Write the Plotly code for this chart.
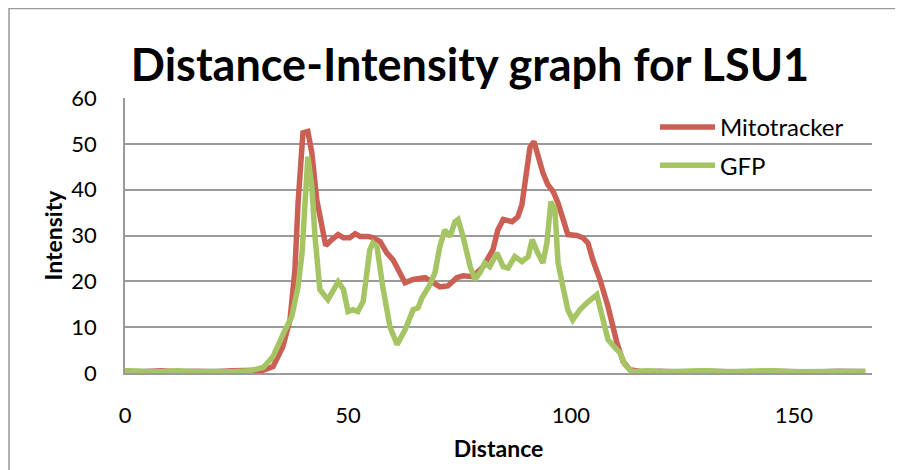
import plotly.graph_objects as go

# Mitotracker (red) series
mito_x = [0, 4, 8, 12, 16, 20, 24, 28, 31, 33.2, 35.4, 37, 38.1, 38.8, 39.9, 41, 41.9, 43, 44.2, 45,
          46.4, 47.8, 49, 50.4, 51.6, 52.7, 54.5, 55.7, 57.2, 58.7, 60.1, 61.7, 62.8, 64.6, 67.3, 68,
          69.5, 70.6, 72.4, 74.4, 75.8, 78, 80.3, 81.8, 82.5, 83.6, 84.8, 86.8, 88.1, 89, 90.1, 90.8,
          91.7, 92.6, 93.7, 94.8, 96, 97.1, 98.2, 99.3, 101.3, 102.7, 103.8, 104.9, 106.5, 108.3,
          110.3, 111.7, 113.2, 116, 120, 125, 130, 135, 140, 145, 150, 155, 160, 166]
mito_y = [0.4, 0.3, 0.5, 0.3, 0.4, 0.3, 0.5, 0.4, 0.6, 1.4, 5.8, 11.6, 22.5, 37, 52.4, 52.7, 48, 37.8,
          31.2, 27.8, 29.1, 30.2, 29.5, 29.5, 30.4, 29.8, 29.8, 29.5, 28.7, 26.2, 24.7, 21.9, 19.7,
          20.4, 20.8, 20.4, 19.3, 18.8, 19.0, 20.8, 21.2, 21.0, 23.2, 25.4, 26.9, 31.2, 33.5, 33.0,
          34.1, 36.7, 43.7, 49.2, 50.5, 47.2, 43.7, 41.1, 39.6, 37.1, 33.5, 30.2, 30.0, 29.5, 28.4,
          24.7, 20.4, 14.5, 6.6, 2.5, 0.7, 0.3, 0.4, 0.2, 0.4, 0.3, 0.2, 0.4, 0.3, 0.2, 0.4, 0.3]

# GFP (green) series
gfp_x = [0, 4, 8, 12, 16, 20, 24, 28, 31, 33.2, 34.8, 35.9, 37.4, 38.8, 39.7, 40.4, 41, 41.9, 42.6,
         43.7, 45.5, 47.8, 49, 50, 51.1, 52.2, 53.4, 54.9, 55.6, 56.5, 57.8, 59.4, 61, 62.8, 64.6,
         65.7, 66.6, 68.4, 69.5, 70.6, 71.7, 72.9, 74, 74.7, 75.8, 77.4, 78.5, 79.6, 80.7, 81.8,
         83.4, 84.8, 85.9, 87.4, 89, 90.4, 91.3, 92.4, 93.7, 94.6, 95.5, 96.4, 97.1, 98.2, 99.3,
         100.4, 102, 103.6, 105.8, 107.2, 108.3, 109.9, 111, 112.1, 113.7, 117, 121, 125, 130, 135,
         140, 145, 150, 155, 160, 166]
gfp_y = [0.5, 0.4, 0.3, 0.5, 0.3, 0.4, 0.3, 0.5, 1.2, 3.6, 7.3, 9.4, 12.3, 18.8, 26.2, 40.7, 47.2,
         40.7, 29.8, 18.2, 16.0, 19.9, 18.2, 13.4, 13.8, 13.4, 15.6, 26.9, 28.4, 27.6, 18.8, 10.1,
         6.2, 9.4, 13.8, 14.2, 16.4, 19.3, 21.9, 27.6, 31.2, 29.8, 33.0, 33.5, 29.8, 23.2, 20.4,
         21.9, 24.0, 23.2, 26.2, 23.2, 22.9, 25.4, 24.3, 25.4, 29.1, 26.5, 24.0, 28.4, 37.4, 35.6,
         24.0, 18.8, 13.8, 11.6, 13.8, 15.3, 17.1, 11.6, 7.3, 5.5, 4.4, 1.8, 0.3, 0.5, 0.3, 0.4,
         0.5, 0.3, 0.4, 0.5, 0.3, 0.4, 0.5, 0.4]

RED = "#CC5F54"
GREEN = "#A5C463"
FONT = "Lato, 'Open Sans', sans-serif"

fig = go.Figure()
fig.add_trace(go.Scatter(x=mito_x, y=mito_y, mode="lines", name="Mitotracker",
                         line=dict(color=RED, width=5.5), legendgroup="a"))
fig.add_trace(go.Scatter(x=gfp_x, y=gfp_y, mode="lines", name="GFP",
                         line=dict(color=GREEN, width=5.5), legendgroup="b"))

OFF = 8  # page body offset
W, H = 903, 470
L, T = 125 - OFF, 98 - OFF
R = W - (872 - OFF)
B = H - (373 - OFF)
pw, ph = W - L - R, H - T - B

def px(xs):
    return (xs - OFF - L) / pw

def py(ys):
    return (H - B - (ys - OFF)) / ph

fig.update_layout(
    width=W, height=H,
    margin=dict(l=L, r=R, t=T, b=B, autoexpand=False),
    paper_bgcolor="white", plot_bgcolor="white",
    font=dict(family=FONT, size=22, color="black"),
    title=dict(text="<b>Distance-Intensity graph for LSU1</b>",
               font=dict(family=FONT, size=45, color="black"),
               x=(470 - OFF) / W, xanchor="center", xref="container",
               y=1 - (65 - OFF) / H, yref="container", yanchor="middle"),
    showlegend=True,
    legend=dict(x=px(655), y=py(105), xanchor="left", yanchor="top",
                bgcolor="rgba(0,0,0,0)", font=dict(size=24, family=FONT),
                tracegroupgap=4, traceorder="grouped", itemwidth=55),
    xaxis=dict(range=[0, 167.5], tickvals=[0, 50, 100, 150], showgrid=False,
               zeroline=False, showline=True, linecolor="#9A9A9A", linewidth=1.5,
               ticks="", ticklabelstandoff=22, automargin=False,
               title=dict(text="<b>Distance</b>", font=dict(size=23, family=FONT), standoff=14)),
    yaxis=dict(range=[0, 60], tickvals=[0, 10, 20, 30, 40, 50, 60], showgrid=True,
               gridcolor="#9A9A9A", gridwidth=1.5, zeroline=False, showline=True,
               linecolor="#9A9A9A", linewidth=1.5, ticks="", ticklabelstandoff=22,
               automargin=False,
               title=dict(text="<b>Intensity</b>", font=dict(size=23, family=FONT), standoff=2)),
    shapes=[dict(type="rect", xref="paper", yref="paper",
                 x0=px(9), x1=px(896), y0=py(490), y1=py(8.5),
                 line=dict(color="#9A9A9A", width=1.5), fillcolor="rgba(0,0,0,0)",
                 layer="below")],
)

fig.write_html("out.html")
